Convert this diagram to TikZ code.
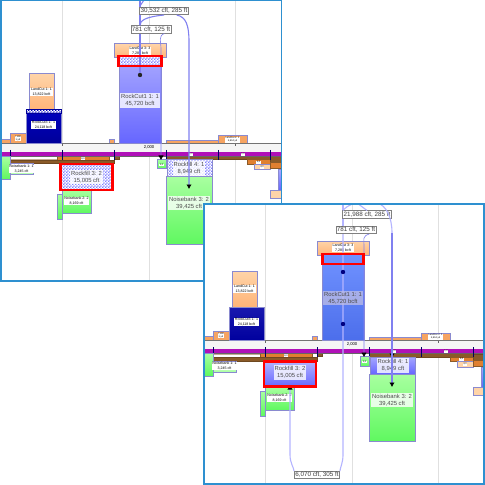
\documentclass[tikz,border=0pt]{standalone}
\usepackage{fontspec}
\setmainfont{Liberation Sans}
\usetikzlibrary{patterns,arrows.meta}
\pgfdeclarepatternformonly{chk}{\pgfqpoint{0bp}{0bp}}{\pgfqpoint{3.2bp}{3.2bp}}{\pgfqpoint{3.2bp}{3.2bp}}{%
  \pgfpathrectangle{\pgfqpoint{0bp}{0bp}}{\pgfqpoint{1.6bp}{1.6bp}}%
  \pgfpathrectangle{\pgfqpoint{1.6bp}{1.6bp}}{\pgfqpoint{1.6bp}{1.6bp}}%
  \pgfusepath{fill}}
\definecolor{edgeb}{HTML}{8A8ACF}
\definecolor{frameb}{HTML}{2E90D0}
\definecolor{flowdark}{HTML}{8080F0}
\definecolor{flowlight}{HTML}{B4B4FF}
\definecolor{orgtop}{HTML}{FFD4A8}
\definecolor{orgbot}{HTML}{FFB478}
\definecolor{grtop}{HTML}{A8FFA0}
\definecolor{grbot}{HTML}{60F860}
\definecolor{purp}{HTML}{B010B8}
\definecolor{barbrown}{HTML}{8A5A28}
\definecolor{barorg}{HTML}{E08030}
\tikzset{
  blockbase/.style={draw=edgeb,line width=1bp,inner sep=0,outer sep=0},
  orange/.style={top color=orgtop,bottom color=orgbot},
  deeporg/.style={fill=orgbot!70!barorg},
  lightorg/.style={fill=orgtop},
  midorg/.style={fill=barorg,draw=barbrown},
  brownbar/.style={fill=barbrown,draw=barbrown!80!black},
  greenb/.style={top color=grtop,bottom color=grbot},
  navy/.style={top color=blue!75!black,bottom color=blue!60!black},
  hatchb/.style={pattern=chk,pattern color=blue!50!white},
  solidb/.style={top color=blue!35!white,bottom color=blue!60!white},
  rockone/.style={top color=blue!35!white,bottom color=blue!60!white},
  rocktwo/.style={top color={rgb,255:red,112;green,146;blue,255},bottom color={rgb,255:red,76;green,110;blue,235}},
  labelbig/.style={fill=white,fill opacity=.8,text opacity=1,inner sep=1bp,align=center,font=\fontsize{5.9}{7.2}\selectfont,text=black!70},
  labelsmall/.style={fill=white,inner sep=.6bp,align=center,font=\fontsize{3.6}{4.3}\selectfont},
  tinylabel/.style={fill=white,inner sep=.4bp,align=center,font=\fontsize{2.4}{2.8}\selectfont},
  flowtag/.style={draw=black!50,fill=white,line width=.7bp,inner sep=1bp,font=\fontsize{6.3}{7}\selectfont,text=black!75},
  flowA/.style={draw=flowdark,line width=1.1bp},
  flowB/.style={draw=flowlight,line width=1.1bp},
  redbox/.style={draw=red,line width=2.4bp,inner sep=0,outer sep=0},
  frameline/.style={draw=frameb,line width=1.5bp,fill=none},
  dotmark/.style={circle,fill=black!85,inner sep=0,minimum size=4.4bp},
  tip/.style={-{Latex[black,length=4.5bp,width=5.5bp]}},
  gridl/.style={draw=black!12,line width=.6bp},
}
\newcommand\blk[6]{%
  \pgfmathsetmacro\bw{#4-(#2)}\pgfmathsetmacro\bh{#5-(#3)}%
  \node[blockbase,#6,minimum width=\bw bp,minimum height=\bh bp] (#1) at ({((#2)+(#4))/2},{((#3)+(#5))/2}) {};}
\newcommand\commonparts{%
  \foreach \gx/\gn in {62/a,149/b,235/c}{\draw[gridl] (\gx,0) coordinate (g\gn t) -- (\gx,300) coordinate (g\gn b);}
  % upper blocks
  \blk{e1}{-4}{139.5}{10}{143.5}{deeporg}
  \blk{e2}{10}{134}{26}{143.5}{deeporg}
  \blk{land1}{29}{74}{54}{110}{orange}
  \blk{e3}{109}{139.5}{114}{143.5}{deeporg}
  \blk{e4}{166}{140.5}{218}{143.5}{deeporg}
  \blk{e5}{218}{136}{247}{143.5}{deeporg}
  \blk{land5}{114}{44}{166}{58}{orange}
  \node[labelsmall] (lland1) at (land1) {LandCut 1: 1\\13,822 bcft};
  \node[labelsmall] (lland5) at (land5) {LandCut 3: 3\\7,280 bcft};
  \node[tinylabel] (le2) at (18,138.5) {7,280\\1 yd};
  \node[tinylabel] (le5) at (232.5,139.7) {LandCut 2: 1\\3,804 yd};
  % axis band
  \fill[black!4] (0,144) rectangle (290,152);
  \draw[black!55,line width=1bp] (0,143.7) coordinate (ax0) -- (290,143.7) coordinate (ax1);
  \node[inner sep=0,font=\fontsize{4.2}{5}\selectfont] (axlabel) at (149,147.5) {2,000};
  \draw[black!60,line width=.5bp] (62,144) -- (62,146) (235,144) -- (235,146);
  % lower bars
  \blk{b0}{10}{157}{57}{160}{fill=white,draw=barbrown!50}
  \blk{b1}{57}{156.5}{109}{160.5}{midorg}
  \blk{b2}{10}{160.5}{114}{164}{brownbar}
  \blk{b3}{114}{156.5}{119}{159.5}{brownbar}
  \blk{b4}{166}{156.5}{270}{160}{brownbar}
  \blk{b5}{247}{160}{270}{164.5}{midorg}
  \blk{b6}{254}{164.5}{270}{170}{lightorg}
  \blk{b7}{270}{157}{290}{163}{brownbar}
  \blk{b8}{270}{163}{290}{169}{midorg}
  \blk{b9}{278}{170}{290}{190}{solidb}
  \blk{b10}{270}{190}{290}{198}{lightorg}
  \node[tinylabel] (lb1) at (b1) {8,0};
  \node[tinylabel] (lb5) at (b5) {3,0};
  \node[tinylabel] (lb6) at (b6) {4,0};
  % purple band
  \fill[purp] (0,152) rectangle (290,156.5);
  \draw[black!60,line width=.4bp] (0,156.5) -- (290,156.5);
  \foreach \dx in {10,62,114,166,218,270}{\draw[blue!40!black,line width=.7bp] (\dx,150) -- (\dx,160);}
  \foreach \tx in {191,243}{\node[tinylabel] at (\tx,154.3) {1,0};}
  % lower blocks
  \blk{nb0}{-6}{156.5}{10}{179}{greenb}
  \blk{nb1}{10}{164}{33}{175}{top color=white,bottom color=grtop}
  \node[labelsmall] (lnb1) at (21.5,169) {Noisebank 1: 1\\3,245 cft};
  \blk{nb2s}{57}{194}{62}{219}{greenb}
  \blk{nb2}{62}{190}{91}{213}{greenb}
  \node[labelsmall] (lnb2) at (76.5,201) {Noisebank 2: 2\\8,169 cft};
  \blk{sg}{157}{159.5}{166}{169}{greenb}
  \node[tinylabel] (lsg) at (161.5,165) {1,0};
  \blk{nb3}{166}{177}{212}{244}{greenb}
  \node[labelbig] (lnb3) at (189,203) {Noisebank 3: 2\\39,425 cft};
}
\begin{document}
\begin{tikzpicture}[x=1bp,y=-1bp]
\useasboundingbox (0,0) rectangle (485,485);
\fill[white] (0,0) rectangle (485,485);
% ---------- first panel
\begin{scope}[name prefix=p-]
\begin{scope}
  \clip (1,1) rectangle (281,280);
  \commonparts
  \blk{rc3}{26}{110}{61}{143.5}{navy}
  \blk{rc3h}{26}{110}{61}{114}{fill=white,draw=none}
  \blk{rc3p}{26}{110}{61}{114}{pattern=chk,pattern color=blue!75!black,draw=blue!60!black}
  \node[labelsmall] (lrc3) at (43.5,125) {RockCut3 1: 1\\24,118 bcft};
  \blk{rc1}{119}{60}{161}{143.5}{rockone}
  \blk{rc1w}{119}{57}{161}{66}{fill=white}
  \blk{rc1h}{119}{57}{161}{66}{hatchb}
  \node[labelbig] (lrc1) at (140,100.5) {RockCut1 1: 1\\45,720 bcft};
  \blk{rf3}{60}{164}{113}{190}{fill=white}
  \blk{rf3p}{60}{164}{113}{190}{hatchb}
  \node[labelbig] (lrf3) at (86.5,177) {Rockfill 3: 2\\15,005 cft};
  \blk{rf4}{167}{160}{212}{177}{hatchb}
  \node[labelbig] (lrf4) at (189,168.5) {Rockfill 4: 1\\8,949 cft};
  \node[flowtag] (tag1) at (164,11) {30,532 cft, 285 ft};
  \node[flowtag] (tag2) at (151,29.5) {781 cft, 125 ft};
  \coordinate (top1) at (140,0);
  \node[dotmark] (dot1) at (140,75) {};
  \draw[flowA] (top1) -- (top1 |- tag1.north);
  \draw[flowA] (top1 |- tag1.south) -- (top1 |- tag2.north);
  \draw[flowA] (top1 |- tag2.south) -- (dot1);
  \draw[flowA] (top1 |- tag2.north) .. controls (140,21) and (144,17) .. (tag1.south);
  \draw[flowA] (140,6) -- (144,0);
  \draw[flowA,tip] (tag1.south east) ++(-12,0) .. controls (186,17) and (189,25) .. (189,42) -- (189,189);
  \draw[flowA,tip,line width=.6bp] (tag2.south east) ++(-7,0) .. controls (158,36) and (161,42) .. (161,48) -- (161,160);
  \node[redbox,minimum width=43bp,minimum height=9.5bp] (red1) at (140,61) {};
  \node[redbox,minimum width=52bp,minimum height=26bp] (red2) at (86.5,177) {};
\end{scope}
\draw[frameline] (1,0) rectangle (281.5,281);
\end{scope}
% ---------- second panel
\begin{scope}[shift={(203,197)},name prefix=q-]
\fill[white] (1,7) rectangle (281,287);
\begin{scope}
  \clip (1,7) rectangle (281,287);
  \commonparts
  \blk{rc3}{26}{110}{61}{143.5}{top color=blue!65!black!90!white,bottom color=blue!62!black}
  \node[labelsmall] (lrc3) at (43.5,125) {RockCut3 1: 1\\24,118 bcft};
  \blk{rc1}{119}{57}{161}{143.5}{rocktwo}
  \blk{rf3}{60}{164}{113}{190}{top color=blue!30!white,bottom color=blue!60!white}
  \node[labelbig] (lrf3) at (87,175.5) {Rockfill 3: 2\\15,005 cft};
  \blk{rf4}{167}{160}{212}{177}{top color=blue!35!white,bottom color=blue!60!white}
  \node[labelbig] (lrf4) at (190,168.5) {Rockfill 4: 1\\8,949 cft};
  \node[flowtag] (tag3) at (114,278) {6,070 cft, 305 ft};
  \node[flowtag] (tag1) at (164,17.5) {21,988 cft, 285 ft};
  \node[flowtag] (tag2) at (153,33) {781 cft, 125 ft};
  \coordinate (top1) at (140,0);
  \coordinate (bend1) at (140,258);
  \coordinate (bend2) at (87,258);
  \draw[flowB] (top1) -- (top1 |- tag1.north);
  \draw[flowB] (top1 |- tag1.south) -- (top1 |- tag2.north);
  \draw[flowB] (top1 |- tag2.south) -- (bend1) .. controls (140,266) and (137,271) .. (tag3.north east);
  \draw[flowB,tip] (tag3.north west) .. controls (91,271) and (87,266) .. (bend2) -- (87,188);
  \draw[flowB] (top1 |- tag1.north) .. controls (141,12) and (146,7) .. (154,6) -- (tag1.north);
  \draw[flowB] (174,6) .. controls (183,8) and (189,20) .. (189,36);
  \draw[flowA,tip] (189,36) -- (189,161);
  \draw[flowA,tip] (189,36) -- (189,190);
  \draw[flowA,tip,line width=.6bp] (tag2.south east) ++(-7,0) .. controls (159,39) and (161,43) .. (161,48) -- (161,160);
  \node[labelbig,fill=cyan!20!blue!25!white,fill opacity=.75] (lrc1) at (140,101) {RockCut1 1: 1\\45,720 bcft};
  \node[dotmark,fill=blue!50!black] (dot1) at (140,75) {};
  \node[dotmark,fill=blue!50!black] (dot2) at (140,127) {};
  \node[redbox,minimum width=41bp,minimum height=9.5bp] (red1) at (140,62) {};
  \node[redbox,minimum width=52bp,minimum height=25bp] (red2) at (87,177) {};
\end{scope}
\draw[frameline] (1,7) rectangle (281,287);
\end{scope}
\end{tikzpicture}
\end{document}
